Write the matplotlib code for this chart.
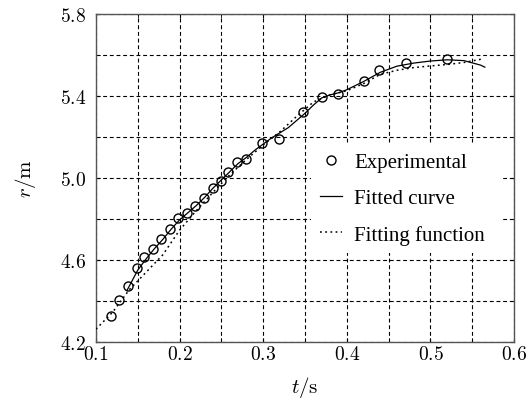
import numpy as np
import matplotlib
matplotlib.use("Agg")
import matplotlib.pyplot as plt
from matplotlib.ticker import MultipleLocator, FixedLocator, FuncFormatter

plt.rcParams['mathtext.fontset'] = 'cm'
plt.rcParams['font.family'] = ['Liberation Serif', 'DejaVu Serif']

# experimental points
t_exp = [0.118, 0.127, 0.138, 0.149, 0.158, 0.168, 0.178, 0.188, 0.198, 0.209,
         0.219, 0.229, 0.240, 0.250, 0.258, 0.269, 0.279, 0.299, 0.319, 0.348,
         0.370, 0.389, 0.420, 0.439, 0.471, 0.520]
r_exp = [4.328, 4.406, 4.474, 4.560, 4.615, 4.654, 4.700, 4.751, 4.802, 4.827,
         4.865, 4.900, 4.953, 4.983, 5.028, 5.077, 5.094, 5.168, 5.191, 5.320,
         5.393, 5.410, 5.474, 5.524, 5.560, 5.580]

# fitted curve (solid)
t_fit = [0.137, 0.15, 0.16, 0.17, 0.18, 0.19, 0.20, 0.21, 0.22, 0.23, 0.24, 0.25,
         0.26, 0.27, 0.28, 0.29, 0.30, 0.31, 0.32, 0.33, 0.34, 0.35, 0.36, 0.37,
         0.38, 0.39, 0.40, 0.42, 0.44, 0.46, 0.48, 0.50, 0.52, 0.54, 0.56, 0.565]
r_fit = [4.45, 4.55, 4.605, 4.655, 4.70, 4.75, 4.795, 4.83, 4.865, 4.905, 4.95, 4.99,
         5.03, 5.07, 5.10, 5.135, 5.165, 5.195, 5.22, 5.245, 5.28, 5.315, 5.355, 5.39,
         5.405, 5.415, 5.43, 5.47, 5.515, 5.545, 5.56, 5.57, 5.576, 5.572, 5.55, 5.54]

# fitting function (dotted)
t_fun = [0.10, 0.12, 0.14, 0.16, 0.18, 0.20, 0.22, 0.24, 0.26, 0.28, 0.30, 0.32,
         0.34, 0.36, 0.38, 0.40, 0.42, 0.44, 0.46, 0.48, 0.50, 0.52, 0.54, 0.562]
r_fun = [4.262, 4.345, 4.455, 4.54, 4.625, 4.745, 4.84, 4.93, 5.015, 5.09, 5.16, 5.225,
         5.30, 5.37, 5.405, 5.425, 5.46, 5.505, 5.525, 5.538, 5.546, 5.553, 5.563, 5.58]

y_major = [4.2, 4.6, 5.0, 5.4, 5.8]
y_minor = [4.4, 4.8, 5.2, 5.6]

fig = plt.figure(figsize=(5.3, 4.02), dpi=100)
ax = fig.add_axes([0.181, 0.147, 0.789, 0.816])

ax.plot(t_exp, r_exp, 'o', mfc='none', mec='black', ms=6.5, mew=1.0,
        label='Experimental', zorder=4)
ax.plot(t_fit, r_fit, '-', color='black', lw=0.9, label='Fitted curve', zorder=3)
ax.plot(t_fun, r_fun, color='black', lw=1.1, linestyle=(0, (1.2, 2.2)),
        label='Fitting function', zorder=3)

ax.set_xlim(0.1, 0.6)
ax.set_ylim(4.2, 5.8)
ax.xaxis.set_major_locator(MultipleLocator(0.1))
ax.xaxis.set_minor_locator(MultipleLocator(0.05))
ax.yaxis.set_major_locator(FixedLocator(y_major))
ax.yaxis.set_minor_locator(FixedLocator(y_minor))
ax.xaxis.set_major_formatter(FuncFormatter(lambda v, p: f'${v:.1f}$'))
ax.yaxis.set_major_formatter(FuncFormatter(lambda v, p: f'${v:.1f}$'))

ax.grid(True, which='both', color='black', lw=0.8, linestyle=(0, (3.5, 2.5)))
ax.tick_params(which='both', direction='in', length=3, top=True, right=True,
               labelsize=14, color='black')
ax.tick_params(axis='x', pad=2)
ax.tick_params(axis='y', pad=7)
for s in ax.spines.values():
    s.set_color('#555555')
    s.set_linewidth(1.0)

ax.set_xlabel(r'$t/\mathrm{s}$', fontsize=15, labelpad=8)
ax.set_ylabel(r'$r/\mathrm{m}$', fontsize=15, labelpad=16)

leg = ax.legend(loc='upper left', bbox_to_anchor=(0.49, 0.0, 0.505, 0.635),
                mode='expand', fontsize=15, frameon=True, fancybox=False,
                handlelength=1.1, handletextpad=0.55, labelspacing=0.8,
                borderpad=0.4)
leg.get_frame().set_edgecolor('none')
leg.get_frame().set_facecolor('white')
leg.get_frame().set_alpha(1.0)

fig.savefig('out.png', dpi=100)
